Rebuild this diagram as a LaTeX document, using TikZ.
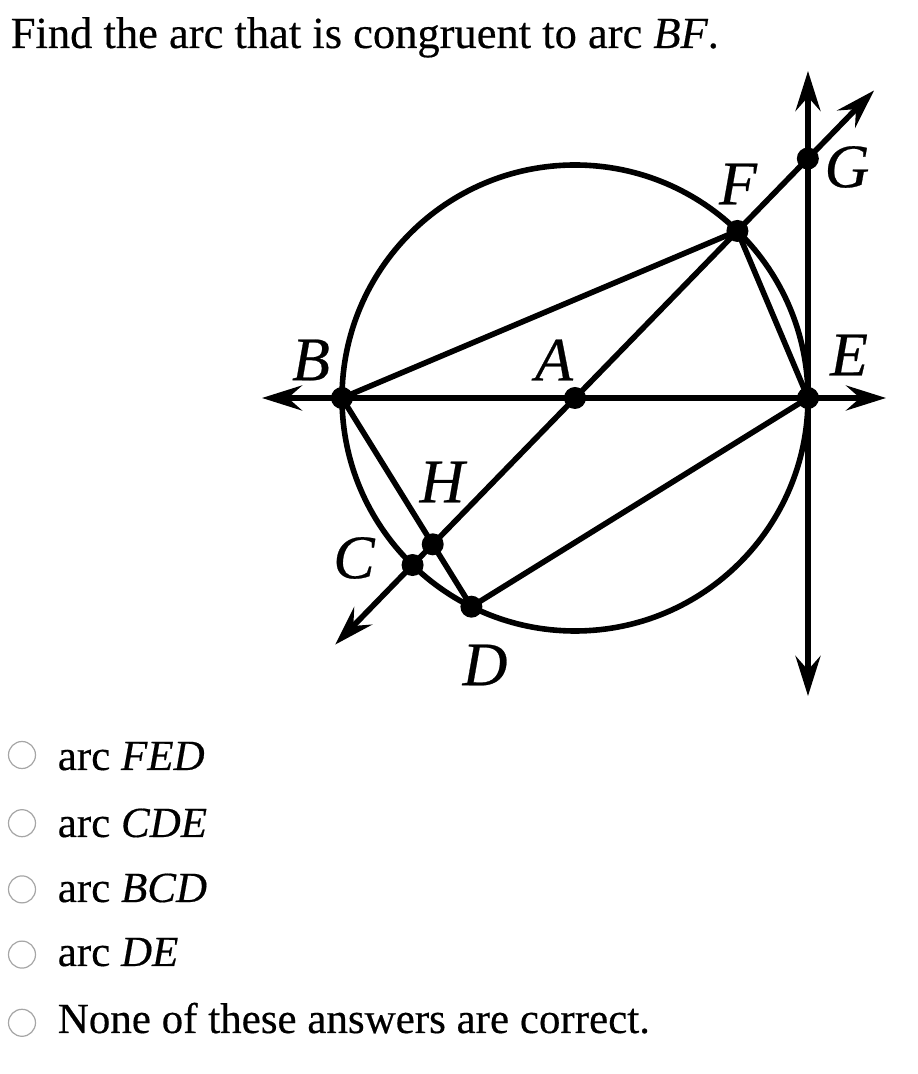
\documentclass[tikz,border=0pt]{standalone}
\usepackage{fontspec}
\setmainfont{Liberation Serif}[FakeBold=0.4]
\usetikzlibrary{arrows.meta,calc,positioning}

\begin{document}
\begin{tikzpicture}[x=1pt,y=1pt,line width=5.6pt,
    >={Stealth[length=40pt,width=25pt,inset=14pt]},
    dot/.style={circle,fill=black,inner sep=0pt,minimum size=22pt},
    pt label/.style={inner sep=0pt,font=\fontsize{62}{62}\selectfont\itshape},
    radio/.style={circle,draw=black!35,line width=1.2pt,fill=white,minimum size=27pt,inner sep=0pt},
    option/.style={anchor=base west,inner sep=0pt,font=\fontsize{43}{43}\selectfont}]
    \useasboundingbox (0,0) rectangle (918,1074);

    \node[anchor=base west,inner sep=0pt,font=\fontsize{44.5}{44.5}\selectfont] (q) at (8,1026)
        {Find the arc that is congruent to arc \textit{BF}.};

    % points of the figure
    \coordinate (A) at (575,676);
    \coordinate (B) at ($(A)+(180:233)$);
    \coordinate (E) at ($(A)+(0:233)$);
    \coordinate (F) at ($(A)+(45.8:233)$);
    \coordinate (C) at ($(A)+(225.8:233)$);
    \coordinate (D) at ($(A)+(243.6:233)$);
    \coordinate (G) at ($(A)+(45.8:334)$);
    \coordinate (H) at (intersection of B--D and F--C);

    % free ends of the lines
    \coordinate (h1) at (262,676);
    \coordinate (h2) at (886,676);
    \coordinate (v1) at (808,1003);
    \coordinate (v2) at (808,378);
    \coordinate (c1) at ($(A)+(225.8:344)$);
    \coordinate (g1) at ($(A)+(45.8:429)$);

    \draw (A) circle (233);
    \path[draw]
        (B) edge (F)
        (F) edge (E)
        (B) edge (D)
        (D) edge (E)
    ;
    \draw[<->] (h1) -- (h2);
    \draw[<->] (v1) -- (v2);
    \draw[<->] (c1) -- (g1);

    \foreach \p in {A,B,C,D,E,F,G,H}
        \node[dot] (d\p) at (\p) {};

    \node[pt label] (lA) at (554,714) {A};
    \node[pt label] (lB) at (311,714) {B};
    \node[pt label] (lC) at (354,516) {C};
    \node[pt label] (lD) at (485,409) {D};
    \node[pt label] (lE) at (849,719) {E};
    \node[pt label] (lF) at (738,890) {F};
    \node[pt label] (lG) at (847,907) {G};
    \node[pt label] (lH) at (442,592) {H};

    % answer choices
    \node[radio] (r1) at (22,319) {};
    \node[radio] (r2) [below=40pt of r1] {};
    \node[radio] (r3) [below=38pt of r2] {};
    \node[radio] (r4) [below=37pt of r3] {};
    \node[radio] (r5) [below=40pt of r4] {};
    \node[option] (o1) at (55,304) {arc \textit{FED}};
    \node[option] (o2) at (55,237) {arc \textit{CDE}};
    \node[option] (o3) at (55,172) {arc \textit{BCD}};
    \node[option] (o4) at (55,108) {arc \textit{DE}};
    \node[option] (o5) at (55,41) {None of these answers are correct.};
\end{tikzpicture}
\end{document}
